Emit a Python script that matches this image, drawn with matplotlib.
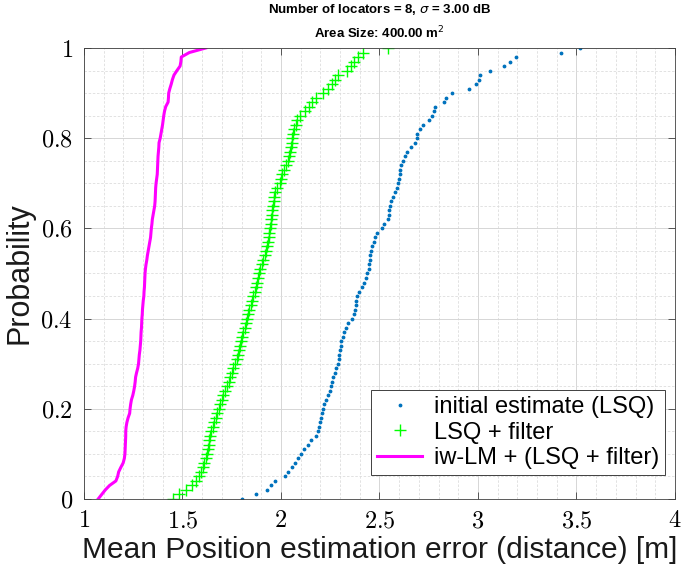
import numpy as np
import matplotlib
matplotlib.use('Agg')
import matplotlib.pyplot as plt
from matplotlib.ticker import MultipleLocator, FuncFormatter

# sorted errors [m], one value per 0.01 of probability
err_lsq = [1.80, 1.875, 1.93, 1.949, 1.972, 2.018, 2.036, 2.055, 2.070, 2.088,
           2.101, 2.118, 2.135, 2.155, 2.177, 2.188, 2.193, 2.197, 2.201, 2.207,
           2.214, 2.220, 2.229, 2.241, 2.247, 2.253, 2.258, 2.263, 2.272, 2.281,
           2.289, 2.293, 2.297, 2.300, 2.304, 2.307, 2.313, 2.320, 2.328, 2.342,
           2.359, 2.369, 2.375, 2.379, 2.383, 2.386, 2.394, 2.413, 2.424, 2.432,
           2.438, 2.445, 2.449, 2.451, 2.452, 2.455, 2.464, 2.471, 2.479, 2.487,
           2.515, 2.522, 2.541, 2.547, 2.551, 2.554, 2.560, 2.570, 2.581, 2.589,
           2.594, 2.599, 2.602, 2.605, 2.609, 2.619, 2.628, 2.640, 2.661, 2.681,
           2.690, 2.692, 2.704, 2.722, 2.753, 2.767, 2.778, 2.784, 2.826, 2.840,
           2.870, 2.955, 2.990, 3.005, 3.009, 3.06, 3.13, 3.165, 3.195, 3.42,
           3.52]

err_filter = [1.45, 1.48, 1.52, 1.55, 1.57, 1.585, 1.595, 1.605, 1.61, 1.617,
              1.623, 1.628, 1.633, 1.637, 1.642, 1.647, 1.653, 1.661, 1.669, 1.677,
              1.684, 1.692, 1.699, 1.708, 1.717, 1.727, 1.734, 1.742, 1.750, 1.759,
              1.768, 1.775, 1.782, 1.788, 1.793, 1.798, 1.803, 1.809, 1.816, 1.821,
              1.827, 1.832, 1.839, 1.846, 1.853, 1.860, 1.866, 1.872, 1.878, 1.884,
              1.889, 1.895, 1.905, 1.911, 1.920, 1.926, 1.930, 1.934, 1.938, 1.941,
              1.944, 1.948, 1.951, 1.954, 1.957, 1.960, 1.963, 1.967, 1.972, 1.980,
              1.995, 2.000, 2.006, 2.014, 2.025, 2.035, 2.041, 2.047, 2.051, 2.054,
              2.058, 2.063, 2.068, 2.074, 2.083, 2.097, 2.124, 2.140, 2.158, 2.180,
              2.215, 2.238, 2.257, 2.274, 2.291, 2.335, 2.356, 2.372, 2.392, 2.415,
              2.545]

err_iwlm = [1.072, 1.09, 1.108, 1.13, 1.162, 1.171, 1.176, 1.187, 1.199, 1.205,
            1.208, 1.209, 1.210, 1.211, 1.212, 1.212, 1.214, 1.218, 1.224, 1.232,
            1.234, 1.237, 1.241, 1.248, 1.253, 1.257, 1.260, 1.262, 1.267, 1.273,
            1.277, 1.279, 1.281, 1.284, 1.286, 1.288, 1.289, 1.290, 1.292, 1.293,
            1.294, 1.296, 1.297, 1.299, 1.301, 1.304, 1.305, 1.307, 1.308, 1.309,
            1.310, 1.312, 1.315, 1.319, 1.322, 1.326, 1.330, 1.334, 1.338, 1.340,
            1.342, 1.345, 1.347, 1.351, 1.355, 1.359, 1.361, 1.362, 1.363, 1.364,
            1.366, 1.369, 1.372, 1.373, 1.374, 1.375, 1.376, 1.378, 1.380, 1.381,
            1.387, 1.391, 1.395, 1.399, 1.402, 1.405, 1.409, 1.415, 1.427, 1.429,
            1.430, 1.436, 1.443, 1.449, 1.457, 1.472, 1.488, 1.492, 1.494, 1.535,
            1.618]

labels = ['initial estimate (LSQ)', 'LSQ + filter', 'iw-LM + (LSQ + filter)']


def ecdf_levels(errors):
    # empirical cdf: i-th sorted value sits at i/(n-1)
    n = len(errors)
    return np.arange(n) / (n - 1)


plt.rcParams['mathtext.fontset'] = 'cm'
plt.rcParams['font.family'] = ['Liberation Sans', 'DejaVu Sans']

fig = plt.figure(figsize=(6.81, 5.75), dpi=100)
ax = fig.add_axes([0.1233, 0.1322, 0.8678, 0.7843])

ax.plot(err_lsq, ecdf_levels(err_lsq), linestyle='none', marker='.',
        markersize=3.5, color='#0072BD', label=labels[0])
ax.plot(err_filter, ecdf_levels(err_filter), linestyle='none', marker='+',
        markersize=8, markeredgewidth=1.0, color='#00FF00', label=labels[1])
ax.plot(err_iwlm, ecdf_levels(err_iwlm), linestyle='-', linewidth=2.2,
        color='#FF00FF', label=labels[2])

ax.set_xlim(1, 4)
ax.set_ylim(0, 1)
ax.xaxis.set_major_locator(MultipleLocator(0.5))
ax.xaxis.set_minor_locator(MultipleLocator(0.1))
ax.yaxis.set_major_locator(MultipleLocator(0.2))
ax.yaxis.set_minor_locator(MultipleLocator(0.05))
tex_fmt = FuncFormatter(lambda v, pos: '$%g$' % round(v, 2))
ax.xaxis.set_major_formatter(tex_fmt)
ax.yaxis.set_major_formatter(tex_fmt)

ax.grid(which='major', color='#d6d6d6', linewidth=0.7)
ax.grid(which='minor', color='#dddddd', linewidth=0.6, linestyle=(0, (3, 2)))
ax.set_axisbelow(True)
ax.tick_params(which='major', direction='in', length=5, width=0.6, color='#404040',
               top=True, right=True, labelsize=17.5, pad=8)
ax.tick_params(which='minor', length=0, top=True, right=True)
for s in ax.spines.values():
    s.set_color('#404040')
    s.set_linewidth(0.6)

ax.set_xlabel('Mean Position estimation error (distance) [m]', fontsize=21.5,
              color='#1a1a1a', labelpad=3)
ax.set_ylabel('Probability', fontsize=22, color='#1a1a1a', labelpad=4)
title = ax.set_title('Number of locators = 8, $\\sigma$ = 3.00 dB\nArea Size: 400.00 m$^2$',
                     fontsize=9.5, fontweight='bold', linespacing=1.6, pad=7)
title.set_math_fontfamily('dejavusans')

leg = ax.legend(loc='lower right', bbox_to_anchor=(0.983, 0.053), fontsize=17,
                frameon=True, fancybox=False, framealpha=1, edgecolor='#404040',
                borderpad=0.25, labelspacing=0.15, handlelength=1.9,
                handletextpad=0.5, borderaxespad=0)
leg.get_frame().set_linewidth(0.7)

fig.savefig('out.png', dpi=100)
